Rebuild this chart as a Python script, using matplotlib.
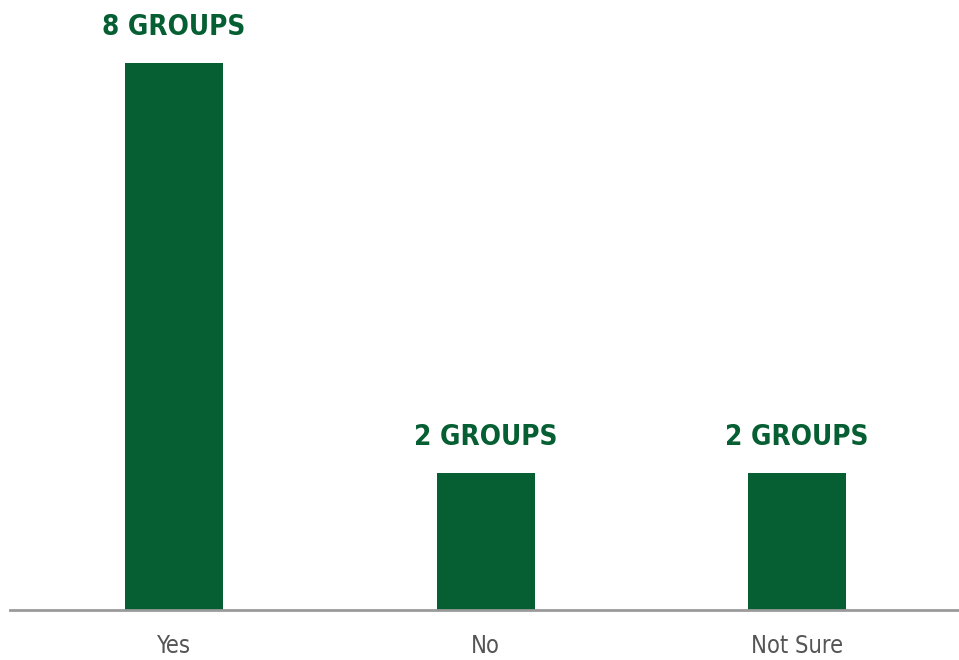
import matplotlib
matplotlib.use("Agg")
import matplotlib.pyplot as plt

# data
categories = ["Yes", "No", "Not Sure"]
groups = [8, 2, 2]
value_labels = ["8 GROUPS", "2 GROUPS", "2 GROUPS"]

bar_color = "#055f33"

fig = plt.figure(figsize=(9.59, 6.60), dpi=100)
ax = fig.add_axes([10/959, 50/660, 949/959, 547/660])

x = list(range(len(categories)))
ax.bar(x, groups, width=0.315, color=bar_color)

# value labels above the bars
for xi, v, lab in zip(x, groups, value_labels):
    ax.annotate(lab, (xi, v), xytext=(0, 16), textcoords="offset points",
                ha="center", va="bottom", color=bar_color, fontsize=20,
                fontweight="bold", fontstretch="condensed", family="DejaVu Sans",
                annotation_clip=False)

ax.set_xlim(-0.527, 2.52)
ax.set_ylim(0, 8)
ax.set_xticks(x)
ax.set_xticklabels(categories, fontsize=17, color="#555555",
                   fontstretch="condensed", family="DejaVu Sans")
ax.tick_params(axis="x", length=0, pad=17)
ax.set_yticks([])
for s in ["top", "right", "left"]:
    ax.spines[s].set_visible(False)
ax.spines["bottom"].set_color("#9a9a9a")
ax.spines["bottom"].set_linewidth(2)

fig.savefig("out.png", dpi=100)
